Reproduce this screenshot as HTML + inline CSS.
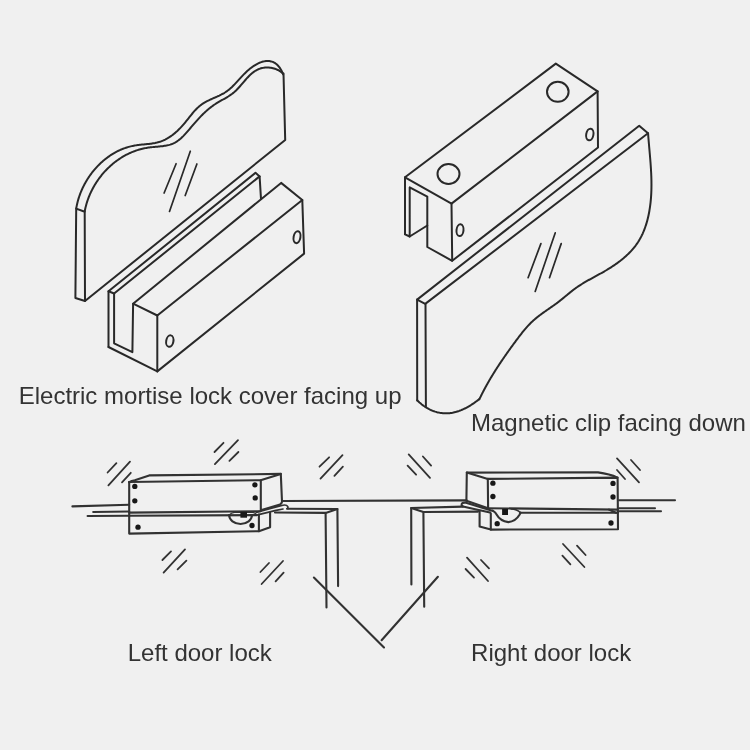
<!DOCTYPE html>
<html><head><meta charset="utf-8"><title>Lock diagram</title>
<style>html,body{margin:0;padding:0;background:#f0f0f0;}body{width:750px;height:750px;position:relative;overflow:hidden;font-family:"Liberation Sans",sans-serif;}</style>
</head><body>
<svg width="750" height="750" viewBox="0 0 750 750" style="position:absolute;left:0;top:0">
<g fill="none" stroke="#292929" stroke-width="2.0" stroke-linejoin="round" stroke-linecap="round">
<path d="M76.22,208.57 L76.38,207.59 L76.56,206.61 L76.75,205.64 L76.96,204.67 L77.18,203.69 L77.41,202.72 L77.65,201.76 L77.91,200.79 L78.18,199.83 L78.46,198.87 L78.76,197.92 L79.06,196.96 L79.38,196.01 L79.72,195.07 L80.06,194.12 L80.42,193.19 L80.79,192.25 L81.17,191.32 L81.56,190.39 L81.97,189.47 L82.38,188.55 L82.81,187.64 L83.25,186.73 L83.70,185.83 L84.16,184.93 L84.63,184.04 L85.12,183.16 L85.61,182.28 L86.12,181.40 L86.64,180.53 L87.16,179.67 L87.70,178.81 L88.25,177.96 L88.81,177.12 L89.38,176.28 L89.95,175.46 L90.54,174.63 L91.14,173.82 L91.75,173.01 L92.37,172.21 L93.00,171.42 L93.64,170.64 L94.28,169.86 L94.94,169.10 L95.61,168.34 L96.28,167.59 L96.96,166.85 L97.66,166.11 L98.36,165.39 L99.07,164.68 L99.79,163.97 L100.52,163.28 L101.25,162.59 L102.00,161.92 L102.75,161.25 L103.51,160.60 L104.28,159.96 L105.06,159.32 L105.84,158.70 L106.64,158.09 L107.44,157.49 L108.24,156.90 L109.06,156.32 L109.88,155.75 L110.71,155.20 L111.55,154.65 L112.40,154.12 L113.25,153.61 L114.11,153.10 L114.97,152.61 L115.85,152.13 L116.73,151.66 L117.61,151.21 L118.51,150.77 L119.41,150.34 L120.32,149.93 L121.23,149.53 L122.15,149.15 L123.08,148.78 L124.02,148.42 L124.96,148.08 L125.91,147.76 L126.86,147.45 L127.82,147.15 L128.79,146.87 L129.76,146.61 L130.74,146.36 L131.73,146.13 L132.72,145.92 L133.72,145.72 L134.72,145.54 L135.73,145.37 L136.75,145.22 L137.77,145.08 L138.79,144.95 L139.82,144.84 L140.84,144.72 L141.87,144.62 L142.90,144.52 L143.93,144.42 L144.96,144.32 L145.99,144.22 L147.01,144.12 L148.04,144.02 L149.05,143.90 L150.07,143.79 L151.08,143.66 L152.08,143.52 L153.08,143.36 L154.06,143.19 L155.05,143.01 L156.02,142.81 L156.98,142.59 L157.93,142.34 L158.87,142.07 L159.81,141.78 L160.73,141.47 L161.63,141.14 L162.53,140.78 L163.42,140.40 L164.30,140.00 L165.17,139.58 L166.02,139.14 L166.87,138.68 L167.71,138.20 L168.54,137.70 L169.36,137.19 L170.17,136.65 L170.97,136.10 L171.76,135.54 L172.54,134.95 L173.32,134.35 L174.08,133.74 L174.84,133.11 L175.59,132.47 L176.33,131.81 L177.07,131.15 L177.79,130.47 L178.51,129.77 L179.22,129.07 L179.93,128.35 L180.63,127.62 L181.32,126.89 L182.00,126.14 L182.68,125.39 L183.35,124.62 L184.02,123.85 L184.68,123.07 L185.33,122.29 L185.98,121.49 L186.62,120.69 L187.26,119.89 L187.90,119.09 L188.53,118.28 L189.17,117.48 L189.80,116.68 L190.44,115.87 L191.08,115.08 L191.72,114.29 L192.37,113.50 L193.02,112.72 L193.68,111.96 L194.34,111.20 L195.02,110.45 L195.70,109.72 L196.39,109.00 L197.09,108.30 L197.81,107.62 L198.54,106.95 L199.28,106.30 L200.04,105.67 L200.81,105.07 L201.60,104.49 L202.40,103.93 L203.22,103.39 L204.06,102.88 L204.91,102.38 L205.77,101.89 L206.64,101.43 L207.52,100.97 L208.41,100.53 L209.30,100.10 L210.20,99.67 L211.11,99.26 L212.02,98.84 L212.94,98.44 L213.85,98.03 L214.77,97.63 L215.68,97.22 L216.59,96.81 L217.50,96.40 L218.41,95.98 L219.31,95.56 L220.20,95.12 L221.09,94.68 L221.96,94.22 L222.83,93.75 L223.69,93.27 L224.53,92.77 L225.36,92.25 L226.18,91.71 L226.98,91.15 L227.76,90.56 L228.54,89.96 L229.30,89.35 L230.05,88.71 L230.78,88.06 L231.51,87.39 L232.23,86.72 L232.94,86.02 L233.65,85.32 L234.35,84.61 L235.04,83.89 L235.73,83.16 L236.42,82.42 L237.10,81.68 L237.79,80.93 L238.47,80.18 L239.15,79.43 L239.84,78.67 L240.52,77.92 L241.21,77.17 L241.91,76.41 L242.61,75.67 L243.32,74.92 L244.03,74.18 L244.75,73.45 L245.49,72.72 L246.23,72.01 L246.98,71.30 L247.74,70.60 L248.52,69.92 L249.31,69.24 L250.12,68.59 L250.94,67.95 L251.76,67.32 L252.60,66.72 L253.45,66.13 L254.31,65.57 L255.18,65.04 L256.05,64.53 L256.93,64.04 L257.82,63.59 L258.71,63.16 L259.60,62.77 L260.49,62.42 L261.39,62.10 L262.29,61.81 L263.18,61.57 L264.07,61.37 L264.97,61.20 L265.85,61.09 L266.74,61.02 L267.61,60.99 L268.49,61.02 L269.35,61.09 L270.21,61.22 L271.05,61.40 L271.89,61.64 L272.72,61.93 L273.53,62.28 L274.33,62.70 L275.12,63.17 L275.89,63.71 L276.65,64.32 L277.38,64.99 L278.11,65.73 L278.81,66.54 L279.49,67.42 L280.15,68.38 L280.80,69.41 L281.41,70.52 L282.01,71.71 L282.58,72.97 L283.13,74.32"/>
<path d="M84.65,211.71 L84.83,210.74 L85.02,209.77 L85.23,208.80 L85.45,207.83 L85.68,206.87 L85.92,205.91 L86.18,204.95 L86.45,203.99 L86.73,203.04 L87.03,202.09 L87.33,201.14 L87.65,200.20 L87.98,199.26 L88.33,198.33 L88.68,197.40 L89.05,196.47 L89.42,195.54 L89.81,194.62 L90.22,193.71 L90.63,192.80 L91.05,191.89 L91.49,190.99 L91.93,190.10 L92.39,189.21 L92.86,188.32 L93.34,187.44 L93.83,186.56 L94.33,185.70 L94.84,184.83 L95.36,183.98 L95.90,183.12 L96.44,182.28 L96.99,181.44 L97.56,180.61 L98.13,179.78 L98.71,178.97 L99.31,178.15 L99.91,177.35 L100.52,176.55 L101.14,175.76 L101.77,174.98 L102.41,174.20 L103.06,173.44 L103.72,172.68 L104.39,171.93 L105.07,171.18 L105.76,170.45 L106.45,169.72 L107.16,169.01 L107.87,168.30 L108.59,167.60 L109.32,166.91 L110.06,166.23 L110.80,165.55 L111.56,164.89 L112.32,164.24 L113.09,163.59 L113.87,162.96 L114.65,162.34 L115.45,161.72 L116.25,161.12 L117.06,160.53 L117.88,159.95 L118.70,159.38 L119.53,158.82 L120.37,158.27 L121.21,157.73 L122.07,157.20 L122.92,156.69 L123.79,156.18 L124.66,155.69 L125.54,155.21 L126.43,154.74 L127.32,154.29 L128.22,153.84 L129.12,153.41 L130.03,152.99 L130.95,152.59 L131.87,152.19 L132.80,151.81 L133.73,151.44 L134.67,151.09 L135.62,150.75 L136.57,150.42 L137.53,150.11 L138.49,149.81 L139.45,149.52 L140.43,149.25 L141.40,149.00 L142.38,148.75 L143.37,148.52 L144.36,148.31 L145.36,148.11 L146.36,147.93 L147.36,147.76 L148.37,147.61 L149.39,147.47 L150.40,147.34 L151.42,147.23 L152.44,147.12 L153.46,147.02 L154.49,146.93 L155.51,146.84 L156.53,146.75 L157.54,146.66 L158.56,146.57 L159.57,146.47 L160.57,146.37 L161.57,146.26 L162.57,146.14 L163.56,146.01 L164.54,145.86 L165.51,145.70 L166.47,145.52 L167.42,145.33 L168.36,145.11 L169.29,144.86 L170.21,144.59 L171.11,144.30 L172.00,143.97 L172.88,143.61 L173.74,143.23 L174.58,142.80 L175.41,142.35 L176.22,141.86 L177.02,141.35 L177.81,140.80 L178.58,140.24 L179.34,139.64 L180.09,139.03 L180.83,138.39 L181.56,137.73 L182.28,137.05 L183.00,136.36 L183.70,135.65 L184.40,134.92 L185.09,134.18 L185.77,133.43 L186.45,132.68 L187.13,131.91 L187.80,131.13 L188.47,130.36 L189.13,129.57 L189.79,128.79 L190.46,128.00 L191.12,127.22 L191.78,126.43 L192.44,125.65 L193.10,124.87 L193.77,124.10 L194.43,123.33 L195.10,122.57 L195.77,121.81 L196.44,121.05 L197.11,120.30 L197.79,119.55 L198.46,118.81 L199.15,118.08 L199.83,117.35 L200.52,116.63 L201.21,115.91 L201.91,115.20 L202.61,114.50 L203.31,113.81 L204.02,113.12 L204.74,112.45 L205.46,111.78 L206.19,111.12 L206.92,110.47 L207.66,109.82 L208.40,109.19 L209.16,108.57 L209.92,107.96 L210.68,107.35 L211.46,106.76 L212.24,106.18 L213.03,105.61 L213.82,105.05 L214.63,104.50 L215.45,103.97 L216.27,103.45 L217.10,102.93 L217.94,102.43 L218.78,101.93 L219.63,101.44 L220.48,100.96 L221.34,100.47 L222.19,99.99 L223.05,99.50 L223.91,99.02 L224.76,98.53 L225.61,98.03 L226.46,97.53 L227.31,97.02 L228.15,96.51 L228.98,95.98 L229.81,95.43 L230.62,94.88 L231.43,94.30 L232.23,93.71 L233.01,93.10 L233.79,92.47 L234.55,91.82 L235.29,91.15 L236.03,90.46 L236.75,89.75 L237.46,89.02 L238.17,88.28 L238.86,87.53 L239.55,86.76 L240.23,85.99 L240.91,85.21 L241.59,84.43 L242.26,83.64 L242.93,82.85 L243.59,82.06 L244.26,81.28 L244.93,80.50 L245.61,79.72 L246.28,78.95 L246.96,78.19 L247.65,77.45 L248.34,76.71 L249.04,76.00 L249.75,75.30 L250.47,74.61 L251.20,73.95 L251.94,73.31 L252.69,72.70 L253.46,72.11 L254.24,71.55 L255.04,71.02 L255.86,70.52 L256.69,70.06 L257.55,69.63 L258.42,69.24 L259.31,68.89 L260.23,68.57 L261.15,68.30 L262.10,68.06 L263.05,67.87 L264.02,67.71 L265.00,67.60 L265.99,67.52 L266.98,67.49 L267.98,67.50 L268.98,67.55 L269.98,67.65 L270.98,67.79 L271.98,67.97 L272.97,68.19 L273.96,68.46 L274.94,68.77 L275.91,69.13 L276.87,69.54 L277.82,69.98 L278.76,70.48 L279.68,71.02 L280.58,71.60 L281.46,72.24 L282.32,72.92 L283.16,73.65"/>
<path d="M75.4,298.0 L76.2,208.6 L84.7,211.8 L85.0,301.0 L75.4,298.0"/>
<path d="M283.5,73.5 L285.2,140.0 L85.0,301.0"/>
<path d="M176.1,163.7 L164.1,193.0" stroke-width="1.7"/>
<path d="M190.3,151.2 L169.5,211.5" stroke-width="1.7"/>
<path d="M196.9,164.0 L185.2,195.5" stroke-width="1.7"/>
<path d="M108.5,347.0 L108.5,291.3 L255.5,172.8 L259.6,176.4 L261.0,198.9"/>
<path d="M114.1,293.5 L259.6,176.4"/>
<path d="M108.5,291.3 L114.1,293.5 L114.1,343.3 L132.4,352.1 L133.1,303.7 L281.1,182.9 L302.3,200.0 L304.1,253.6 L157.3,371.4 L108.5,347.0"/>
<path d="M133.1,303.7 L157.3,315.5 L302.3,200.0"/>
<path d="M157.3,315.5 L157.3,371.4"/>
<path d="M405.0,234.3 L405.0,177.3 L555.8,63.6 L597.6,91.4 L598.0,147.5 L452.2,260.8 L427.3,247.0 L427.3,196.6 L409.7,187.4 L409.7,236.5 L405.0,234.3"/>
<path d="M405.0,177.3 L451.5,203.6 L597.6,91.4"/>
<path d="M451.5,203.6 L452.2,260.8"/>
<path d="M409.7,236.5 L427.3,225.5"/>
<path d="M425.2,303.9 L417.1,299.6 L639.2,125.7 L648.0,133.2 L425.2,303.9"/>
<path d="M417.1,299.6 L417.2,400.4"/>
<path d="M425.5,303.9 L425.9,406.8"/>
<path d="M479.22,399.11 L478.45,399.73 L477.67,400.34 L476.87,400.95 L476.07,401.55 L475.26,402.14 L474.44,402.73 L473.61,403.31 L472.77,403.88 L471.92,404.44 L471.06,404.99 L470.19,405.53 L469.32,406.05 L468.43,406.57 L467.55,407.07 L466.65,407.56 L465.75,408.04 L464.84,408.50 L463.92,408.94 L463.00,409.37 L462.07,409.78 L461.14,410.17 L460.20,410.54 L459.26,410.89 L458.31,411.22 L457.36,411.53 L456.40,411.82 L455.45,412.09 L454.48,412.33 L453.52,412.55 L452.55,412.75 L451.58,412.92 L450.61,413.06 L449.64,413.18 L448.67,413.27 L447.69,413.33 L446.71,413.36 L445.74,413.36 L444.76,413.34 L443.79,413.29 L442.81,413.21 L441.84,413.10 L440.87,412.97 L439.90,412.81 L438.94,412.62 L437.98,412.41 L437.02,412.18 L436.07,411.91 L435.12,411.62 L434.18,411.31 L433.24,410.97 L432.31,410.61 L431.39,410.22 L430.47,409.81 L429.57,409.38 L428.67,408.92 L427.78,408.44 L426.89,407.94 L426.02,407.41 L425.16,406.86 L424.31,406.29 L423.47,405.70 L422.64,405.08 L421.82,404.44 L421.02,403.78 L420.23,403.11 L419.45,402.41 L418.69,401.69 L417.94,400.95 L417.20,400.19"/>
<path d="M648.05,133.18 L648.13,134.19 L648.20,135.20 L648.28,136.21 L648.36,137.22 L648.44,138.23 L648.52,139.24 L648.61,140.24 L648.69,141.25 L648.78,142.25 L648.86,143.26 L648.95,144.26 L649.04,145.27 L649.12,146.27 L649.21,147.27 L649.30,148.27 L649.39,149.27 L649.48,150.27 L649.57,151.27 L649.65,152.27 L649.74,153.27 L649.83,154.27 L649.91,155.26 L650.00,156.26 L650.08,157.26 L650.16,158.25 L650.25,159.25 L650.33,160.25 L650.40,161.24 L650.48,162.24 L650.56,163.23 L650.63,164.23 L650.70,165.22 L650.77,166.22 L650.83,167.21 L650.90,168.21 L650.96,169.20 L651.02,170.19 L651.07,171.19 L651.12,172.18 L651.17,173.18 L651.22,174.17 L651.26,175.17 L651.30,176.16 L651.33,177.16 L651.36,178.15 L651.39,179.15 L651.41,180.14 L651.43,181.14 L651.44,182.13 L651.45,183.13 L651.46,184.12 L651.46,185.12 L651.45,186.12 L651.44,187.12 L651.43,188.11 L651.41,189.11 L651.38,190.11 L651.35,191.11 L651.31,192.11 L651.27,193.11 L651.22,194.11 L651.16,195.11 L651.10,196.12 L651.03,197.12 L650.96,198.12 L650.87,199.13 L650.78,200.13 L650.69,201.14 L650.59,202.14 L650.48,203.15 L650.36,204.16 L650.23,205.17 L650.10,206.18 L649.96,207.19 L649.81,208.20 L649.65,209.20 L649.49,210.21 L649.32,211.22 L649.13,212.23 L648.94,213.23 L648.74,214.23 L648.54,215.23 L648.32,216.23 L648.09,217.23 L647.85,218.22 L647.61,219.21 L647.35,220.20 L647.09,221.19 L646.81,222.17 L646.52,223.14 L646.23,224.11 L645.92,225.08 L645.60,226.04 L645.28,227.00 L644.94,227.96 L644.59,228.90 L644.23,229.84 L643.85,230.78 L643.47,231.71 L643.07,232.63 L642.67,233.55 L642.25,234.46 L641.82,235.36 L641.37,236.25 L640.92,237.14 L640.45,238.01 L639.97,238.88 L639.47,239.75 L638.97,240.60 L638.45,241.44 L637.91,242.27 L637.37,243.10 L636.81,243.91 L636.23,244.72 L635.65,245.52 L635.05,246.30 L634.44,247.08 L633.82,247.85 L633.19,248.61 L632.54,249.36 L631.89,250.11 L631.23,250.84 L630.55,251.57 L629.86,252.29 L629.17,253.00 L628.46,253.70 L627.75,254.39 L627.02,255.08 L626.29,255.76 L625.55,256.43 L624.80,257.09 L624.04,257.75 L623.28,258.39 L622.50,259.04 L621.72,259.67 L620.94,260.30 L620.14,260.92 L619.34,261.53 L618.54,262.14 L617.72,262.74 L616.90,263.33 L616.08,263.92 L615.25,264.50 L614.42,265.07 L613.58,265.64 L612.74,266.20 L611.89,266.76 L611.04,267.31 L610.18,267.85 L609.32,268.39 L608.46,268.93 L607.60,269.45 L606.73,269.98 L605.86,270.49 L604.99,271.01 L604.12,271.52 L603.25,272.02 L602.37,272.52 L601.49,273.01 L600.62,273.50 L599.74,273.99 L598.86,274.47 L597.98,274.96 L597.10,275.44 L596.22,275.92 L595.34,276.40 L594.47,276.87 L593.59,277.35 L592.71,277.83 L591.84,278.31 L590.96,278.79 L590.09,279.27 L589.22,279.75 L588.36,280.24 L587.49,280.73 L586.63,281.22 L585.77,281.71 L584.91,282.21 L584.06,282.72 L583.21,283.23 L582.36,283.74 L581.52,284.26 L580.68,284.79 L579.84,285.33 L579.01,285.87 L578.19,286.42 L577.37,286.97 L576.55,287.54 L575.74,288.11 L574.94,288.70 L574.14,289.29 L573.34,289.89 L572.55,290.50 L571.77,291.11 L570.98,291.74 L570.20,292.36 L569.42,292.99 L568.65,293.63 L567.87,294.26 L567.10,294.90 L566.33,295.55 L565.55,296.19 L564.78,296.83 L564.00,297.47 L563.22,298.11 L562.44,298.75 L561.66,299.38 L560.88,300.01 L560.09,300.64 L559.30,301.26 L558.50,301.88 L557.70,302.49 L556.89,303.09 L556.08,303.69 L555.27,304.28 L554.45,304.87 L553.63,305.45 L552.81,306.03 L551.98,306.61 L551.16,307.19 L550.33,307.76 L549.51,308.34 L548.68,308.91 L547.86,309.48 L547.03,310.05 L546.21,310.63 L545.39,311.20 L544.57,311.78 L543.75,312.35 L542.94,312.93 L542.13,313.52 L541.32,314.11 L540.52,314.70 L539.73,315.29 L538.94,315.90 L538.15,316.50 L537.37,317.12 L536.60,317.74 L535.83,318.37 L535.07,319.01 L534.32,319.66 L533.58,320.31 L532.85,320.98 L532.12,321.65 L531.41,322.34 L530.70,323.03 L530.00,323.73 L529.31,324.44 L528.63,325.16 L527.95,325.89 L527.28,326.63 L526.61,327.37 L525.96,328.12 L525.30,328.87 L524.66,329.63 L524.02,330.40 L523.38,331.17 L522.75,331.95 L522.12,332.73 L521.50,333.51 L520.88,334.30 L520.26,335.09 L519.65,335.89 L519.04,336.69 L518.43,337.49 L517.83,338.30 L517.22,339.10 L516.62,339.91 L516.02,340.72 L515.42,341.53 L514.83,342.33 L514.23,343.15 L513.64,343.96 L513.04,344.77 L512.45,345.58 L511.86,346.39 L511.26,347.21 L510.68,348.02 L510.09,348.84 L509.50,349.65 L508.92,350.47 L508.33,351.29 L507.75,352.11 L507.17,352.93 L506.59,353.75 L506.01,354.57 L505.44,355.39 L504.86,356.22 L504.29,357.04 L503.72,357.87 L503.15,358.70 L502.59,359.52 L502.02,360.35 L501.46,361.18 L500.90,362.02 L500.34,362.85 L499.78,363.68 L499.23,364.52 L498.68,365.36 L498.13,366.20 L497.58,367.04 L497.03,367.88 L496.49,368.72 L495.95,369.56 L495.41,370.41 L494.88,371.26 L494.35,372.11 L493.82,372.96 L493.29,373.81 L492.76,374.66 L492.24,375.52 L491.72,376.37 L491.21,377.23 L490.69,378.09 L490.18,378.96 L489.67,379.82 L489.17,380.68 L488.67,381.55 L488.17,382.42 L487.67,383.29 L487.18,384.17 L486.69,385.04 L486.21,385.92 L485.72,386.80 L485.24,387.68 L484.77,388.56 L484.30,389.44 L483.83,390.33 L483.36,391.22 L482.90,392.11 L482.44,393.00 L481.99,393.90 L481.54,394.80 L481.09,395.70 L480.64,396.60 L480.21,397.50 L479.77,398.41 L479.34,399.32"/>
<path d="M540.9,243.6 L528.1,277.7" stroke-width="1.7"/>
<path d="M555.2,232.9 L535.2,291.4" stroke-width="1.7"/>
<path d="M561.2,243.6 L549.5,277.7" stroke-width="1.7"/>
<ellipse cx="169.8" cy="341.1" rx="3.6" ry="5.8" transform="rotate(10 169.8 341.1)"/>
<ellipse cx="297.0" cy="237.2" rx="3.4" ry="6.0" transform="rotate(10 297.0 237.2)"/>
<ellipse cx="448.5" cy="174.0" rx="11" ry="9.9" transform="rotate(0 448.5 174.0)"/>
<ellipse cx="557.8" cy="91.8" rx="10.8" ry="10" transform="rotate(0 557.8 91.8)"/>
<ellipse cx="460.0" cy="230.2" rx="3.5" ry="5.9" transform="rotate(6 460.0 230.2)"/>
<ellipse cx="589.8" cy="134.5" rx="3.6" ry="5.9" transform="rotate(10 589.8 134.5)"/>
</g>
<g fill="none" stroke="#323232" stroke-width="2.1" stroke-linejoin="round" stroke-linecap="round">
<path d="M129.2,482.2 Q131.5,480.8 134.8,480.3 L149.2,475.4 L280.8,473.9"/>
<path d="M129.2,482.0 L260.6,480.2 L280.8,473.9 L282.0,501.2"/>
<path d="M260.8,480.2 L260.8,510.2 L280,504.4 Q281.8,503.4 282.2,501.2"/>
<path d="M129.2,482.0 L129.2,533.6 L258.9,531.2 L270.1,527.3 L270.1,512.9"/>
<path d="M129.2,512.6 L260.6,511.2"/>
<path d="M129.2,515.8 L256.8,515.1"/>
<path d="M258.9,514.6 L258.9,531.2"/>
<path d="M256.2,512.4 L281,505.6 Q286.4,504.0 287.8,506.6 L288,508.6" stroke-width="1.7"/>
<path d="M256.6,515.2 L276,510.4 L283,509" stroke-width="1.7"/>
<path d="M229.1,515.1 A11.4,8.8 0 0 0 252,515.1"/>
<path d="M229,515.3 Q231.2,512.6 234.5,512.4 L252.5,512.4 Q255.2,512.7 256.2,514.6" stroke-width="1.4"/>
<path d="M72.4,506.4 L129.2,504.8"/>
<path d="M93.2,512.0 L129.2,511.5"/>
<path d="M87.6,516.0 L129.2,515.7"/>
<path d="M282.2,501.0 L466.6,500.4"/>
<path d="M287.0,508.8 L337.4,509.0 L338.1,586.1"/>
<path d="M275.0,512.5 L325.6,512.9 L326.5,607.5"/>
<path d="M325.6,512.9 L337.4,509.0"/>
<path d="M411.4,584.5 L411.2,508.0 L463.0,506.6"/>
<path d="M411.2,508.0 L423.4,512.0 L424.2,606.7"/>
<path d="M423.4,512.0 L478.0,511.6"/>
<path d="M466.8,472.6 L598,472.4 Q610,474 617.4,477.6"/>
<path d="M466.4,500.8 L466.8,472.6 L487.8,478.9 L617.6,477.6 L618.0,529.2 L490.8,529.6 L479.6,526.4 L479.6,511.2"/>
<path d="M487.8,478.9 L488.1,508.2 L466.4,500.8"/>
<path d="M488.1,508.2 L617.4,509.6"/>
<path d="M520.3,512.8 L618.0,512.8"/>
<path d="M490.8,513.4 L490.8,529.6"/>
<path d="M609.0,509.6 L616.0,512.8"/>
<path d="M492.3,510.8 L465.2,502.6 Q461.4,502.4 461.6,505.2 L463,506.5 L490,512.6"/>
<path d="M492.8,510.6 Q495.5,512.2 497.1,515.3 Q500,520.8 508.3,522.1 Q515.5,521.6 519.5,514.8 L520.5,512.7"/>
<path d="M511,508.9 Q517,509.2 520.5,512.7" stroke-width="1.6"/>
<path d="M619.0,500.2 L675.0,500.2"/>
<path d="M619.0,508.2 L655.0,508.2"/>
<path d="M618.0,511.2 L661.0,511.2"/>
<path d="M313.9,577.6 L384.0,647.4"/>
<path d="M437.9,576.8 L381.6,640.2"/>
<path d="M107.6,472.5 L116.4,463.2" stroke-width="1.8"/>
<path d="M108.4,485.3 L130.0,461.6" stroke-width="1.8"/>
<path d="M122.0,482.4 L130.8,472.8" stroke-width="1.8"/>
<path d="M214.5,452.0 L223.5,442.8" stroke-width="1.8"/>
<path d="M214.9,464.1 L238.0,440.2" stroke-width="1.8"/>
<path d="M229.4,460.9 L238.4,452.0" stroke-width="1.8"/>
<path d="M319.5,466.7 L329.1,457.3" stroke-width="1.8"/>
<path d="M320.5,478.6 L342.5,455.2" stroke-width="1.8"/>
<path d="M334.4,475.9 L342.9,466.7" stroke-width="1.8"/>
<path d="M408.7,454.4 L430.0,477.9" stroke-width="1.8"/>
<path d="M422.9,456.5 L431.1,465.6" stroke-width="1.8"/>
<path d="M407.6,465.6 L416.1,474.7" stroke-width="1.8"/>
<path d="M617.0,458.4 L639.0,482.4" stroke-width="1.8"/>
<path d="M631.0,460.0 L640.0,470.0" stroke-width="1.8"/>
<path d="M617.0,470.0 L625.0,479.0" stroke-width="1.8"/>
<path d="M162.4,560.0 L171.0,551.4" stroke-width="1.8"/>
<path d="M163.6,572.6 L185.0,549.4" stroke-width="1.8"/>
<path d="M177.6,569.4 L186.4,560.6" stroke-width="1.8"/>
<path d="M260.4,572.0 L269.0,563.0" stroke-width="1.8"/>
<path d="M261.6,584.0 L283.0,561.0" stroke-width="1.8"/>
<path d="M275.6,581.4 L283.6,572.6" stroke-width="1.8"/>
<path d="M467.0,557.6 L488.0,581.0" stroke-width="1.8"/>
<path d="M481.0,560.0 L489.0,568.4" stroke-width="1.8"/>
<path d="M465.6,569.0 L474.0,577.6" stroke-width="1.8"/>
<path d="M563.0,544.0 L584.4,567.0" stroke-width="1.8"/>
<path d="M577.0,545.6 L585.6,555.0" stroke-width="1.8"/>
<path d="M562.4,555.6 L570.4,564.4" stroke-width="1.8"/>
</g>
<g fill="#181818">
<circle cx="134.8" cy="486.4" r="2.65"/>
<circle cx="134.8" cy="500.8" r="2.65"/>
<circle cx="138" cy="527.2" r="2.65"/>
<circle cx="254.9" cy="484.8" r="2.65"/>
<circle cx="255.2" cy="497.9" r="2.65"/>
<circle cx="252" cy="525.5" r="2.65"/>
<circle cx="492.9" cy="483.2" r="2.65"/>
<circle cx="492.9" cy="496.5" r="2.65"/>
<circle cx="497.2" cy="523.7" r="2.65"/>
<circle cx="613" cy="483.4" r="2.65"/>
<circle cx="613" cy="497" r="2.65"/>
<circle cx="611" cy="523" r="2.65"/>
<rect x="240.4" y="511.8" width="6.6" height="5.9"/>
<rect x="502.1" y="508.9" width="5.9" height="6.1"/>
</g>
<g font-family="'Liberation Sans', sans-serif" font-size="24" fill="#333" style="will-change:transform">
<text x="18.7" y="403.8">Electric mortise lock cover facing up</text>
<text x="471.0" y="430.9">Magnetic clip facing down</text>
<text x="127.7" y="660.6">Left door lock</text>
<text x="471.1" y="660.7">Right door lock</text>
</g></svg>
</body></html>
